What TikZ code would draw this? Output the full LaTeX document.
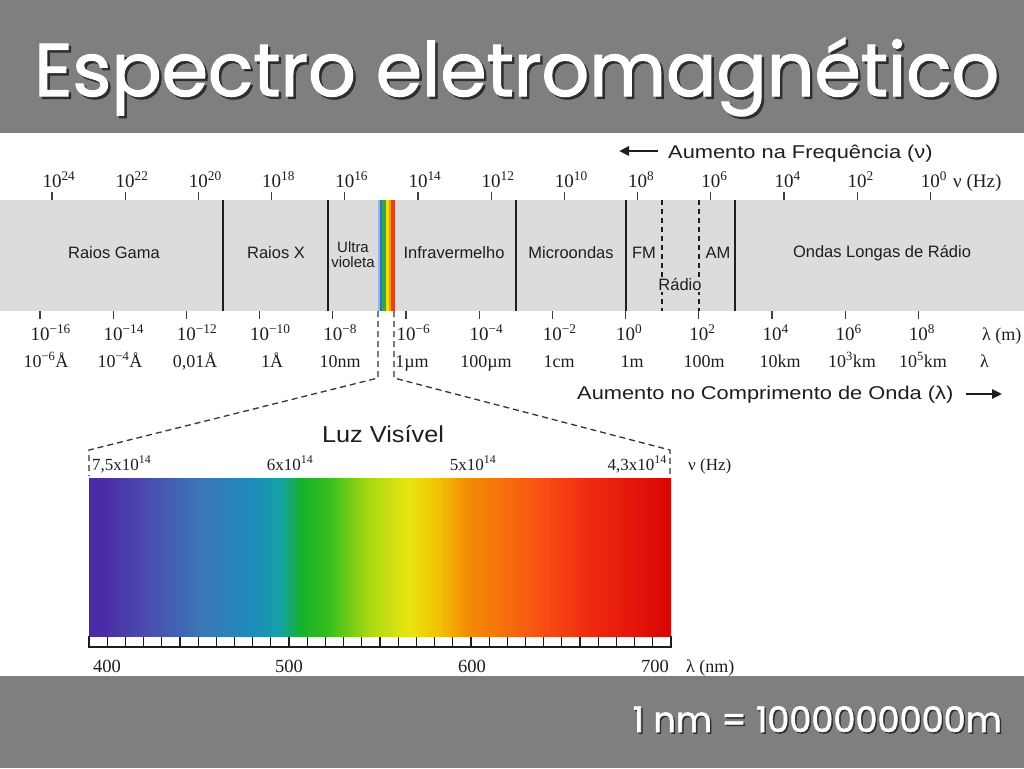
\documentclass[tikz,border=0pt]{standalone}
\usepackage{fontspec}
\setmainfont{Liberation Serif}
\newfontfamily\arialf{Liberation Sans}
\newfontfamily\geof[FakeBold=1.6]{Poppins}
\usetikzlibrary{arrows.meta}
\definecolor{hdr}{HTML}{7F7F7F}
\definecolor{bandc}{HTML}{DCDCDC}
\definecolor{ink}{HTML}{1E1E1E}
\definecolor{shadowc}{HTML}{2E2E2E}
\definecolor{s1}{HTML}{9AB4E8}
\definecolor{s2}{HTML}{3A6ACC}
\definecolor{s3}{HTML}{2EA84A}
\definecolor{s4}{HTML}{F2DC10}
\definecolor{s5}{HTML}{F49A10}
\definecolor{s6}{HTML}{E8401C}
\definecolor{v0}{HTML}{4B2BA6}
\definecolor{v1}{HTML}{4A4DB0}
\definecolor{v2}{HTML}{3C75B6}
\definecolor{v3}{HTML}{1E8CBA}
\definecolor{v4}{HTML}{14A0A8}
\definecolor{v5}{HTML}{18B02C}
\definecolor{v6}{HTML}{34BE1E}
\definecolor{v7}{HTML}{A8D812}
\definecolor{v8}{HTML}{EAE412}
\definecolor{v9}{HTML}{F2C204}
\definecolor{v10}{HTML}{F48C04}
\definecolor{v11}{HTML}{F85812}
\definecolor{v12}{HTML}{F02A10}
\definecolor{v13}{HTML}{D80404}
\pgfdeclarehorizontalshading{visible}{100bp}{color(0bp)=(v0); color(25bp)=(v0); color(26bp)=(v0); color(30bp)=(v1); color(34.5bp)=(v2); color(39bp)=(v3); color(41.4bp)=(v4); color(43.2bp)=(v5); color(45.5bp)=(v6); color(49bp)=(v7); color(52.5bp)=(v8); color(55bp)=(v9); color(57.5bp)=(v10); color(63bp)=(v11); color(68bp)=(v12); color(75bp)=(v13); color(100bp)=(v13)}
\tikzset{
  serifnum/.style={font=\fontsize{19}{22}\selectfont, text=ink, inner sep=0},
  vislbl/.style={font=\fontsize{17}{20}\selectfont, text=ink, inner sep=0},
  bandlbl/.style={font=\arialf\fontsize{16.5}{19}\selectfont, text=ink, inner sep=1pt},
  divider/.style={draw=ink, line width=1.5pt},
  tickline/.style={draw=ink!85, line width=1.2pt},
  zoomline/.style={draw=ink!90, line width=1.3pt, dash pattern=on 6pt off 4pt},
  bigarrow/.style={draw=ink, line width=2.6pt, -{Triangle[length=10pt,width=9pt]}},
}
\begin{document}
\begin{tikzpicture}[x=1pt,y=-1pt]
\useasboundingbox (0,0) rectangle (1024,768);
\fill[white] (0,0) rectangle (1024,768);
\fill[hdr] (0,0) rectangle (1024,133);
\fill[hdr] (0,676) rectangle (1024,768);
% title
\node[anchor=base west, inner sep=0, text=shadowc] (titleshadow) at (36.5,98.5) {\resizebox{965pt}{!}{\geof\fontsize{80}{90}\selectfont Espectro eletromagnético}};
\node[anchor=base west, inner sep=0, text=white] (title) at (34,96) {\resizebox{965pt}{!}{\geof\fontsize{80}{90}\selectfont Espectro eletromagnético}};
% footer
\node[anchor=base east, inner sep=0, text=shadowc] (footshadow) at (1003.5,733.5) {\resizebox{369pt}{!}{\geof\fontsize{36}{40}\selectfont 1 nm = 1000000000m}};
\node[anchor=base east, inner sep=0, text=white] (foot) at (1002,732) {\resizebox{369pt}{!}{\geof\fontsize{36}{40}\selectfont 1 nm = 1000000000m}};

% band
\fill[bandc] (0,200) rectangle (1024,311);
\foreach \x in {223,328,516,626,735} \draw[divider] (\x,200) -- (\x,311);
\foreach \x in {662,699} \draw[divider, line width=1.3pt, dash pattern=on 5pt off 4pt] (\x,200) -- (\x,311);
% rainbow stripe
\fill[s1] (377.7,200) rectangle (380.2,311);
\fill[s2] (380,200) rectangle (382.5,311);
\fill[s3] (382.3,200) rectangle (386.2,311);
\fill[s4] (386,200) rectangle (388.9,311);
\fill[s5] (388.7,200) rectangle (390.9,311);
\fill[s6] (390.7,200) rectangle (394.5,311);
\node[inner sep=0, minimum width=17, minimum height=111, anchor=north west] (uvstripe) at (377.7,200) {};

% band labels
\node[bandlbl] (gama) at (114,253) {Raios Gama};
\node[bandlbl] (raiosx) at (276,253) {Raios X};
\node[bandlbl, font=\arialf\fontsize{15}{17}\selectfont, align=center] (uv) at (353,255) {Ultra\\[-2pt]violeta};
\node[bandlbl] (ir) at (454,253) {Infravermelho};
\node[bandlbl] (micro) at (571,253) {Microondas};
\node[bandlbl] (fm) at (644,253) {FM};
\node[bandlbl] (am) at (718,253) {AM};
\node[bandlbl, fill=bandc] (radio) at (680,285) {Rádio};
\node[bandlbl] (longas) at (882,253) {Ondas Longas de Rádio};

% top frequency ticks and labels
\foreach \i/\e in {0/24,1/22,2/20,3/18,4/16,5/14,6/12,7/10,8/8,9/6,10/4,11/2,12/0} {
  \draw[tickline] (52+73.2*\i,192) -- (52+73.2*\i,200);
  \node[serifnum, anchor=base] (f\i) at (52+73.2*\i,187) {10\rlap{\textsuperscript{\e}}};
}
\node[serifnum, anchor=base west] (nuhz) at (953,187) {ν (Hz)};

% bottom wavelength ticks and labels
\foreach \i/\e in {0/−16,1/−14,2/−12,3/−10,4/−8,5/−6,6/−4,7/−2,8/0,9/2,10/4,11/6,12/8} {
  \draw[tickline] (40+73.2*\i,311) -- (40+73.2*\i,319);
  \node[serifnum, anchor=base] (w\i) at (40+73.2*\i,340) {10\rlap{\textsuperscript{\e}}};
}
\node[serifnum, font=\fontsize{18}{21}\selectfont, anchor=base west] (lamm) at (982,340) {λ (m)};
\foreach \x/\t [count=\j] in {46/{10\textsuperscript{−6}Å},120/{10\textsuperscript{−4}Å},195/{0,01Å},272/{1Å},340/{10nm},412/{1µm},486/{100µm},559/{1cm},632/{1m},704/{100m},780/{10km},852/{10\textsuperscript{3}km},923/{10\textsuperscript{5}km}}
  \node[serifnum, font=\fontsize{18}{21}\selectfont, anchor=base] (u\j) at (\x,367) {\t};
\node[serifnum, font=\fontsize{18}{21}\selectfont, anchor=base west] (lam) at (980,367) {λ};

% direction arrows
\coordinate (fa1) at (658,151);
\coordinate (fa2) at (619,151);
\draw[bigarrow] (fa1) -- (fa2);
\node[anchor=base west, inner sep=0, text=ink] (freqtxt) at (668,158) {\scalebox{1.18}[1]{\arialf\fontsize{18.5}{21}\selectfont Aumento na Frequência (ν)}};
\coordinate (la1) at (966,394);
\coordinate (la2) at (1002,394);
\draw[bigarrow] (la1) -- (la2);
\node[anchor=base west, inner sep=0, text=ink] (lamtxt) at (577,399) {\scalebox{1.18}[1]{\arialf\fontsize{18.5}{21}\selectfont Aumento no Comprimento de Onda (λ)}};

% zoom lines
\coordinate (zl0) at (378,311);
\coordinate (zl1) at (378,378);
\coordinate (zl2) at (89,450);
\coordinate (zl3) at (89,476);
\coordinate (zr0) at (394,311);
\coordinate (zr1) at (394,378);
\coordinate (zr2) at (670,450);
\coordinate (zr3) at (670,476);
\draw[zoomline] (zl0) -- (zl1) -- (zl2) -- (zl3);
\draw[zoomline] (zr0) -- (zr1) -- (zr2) -- (zr3);

% visible light
\node[anchor=base, inner sep=0, text=ink] (luz) at (383,442) {\scalebox{1.1}[1]{\arialf\fontsize{23}{26}\selectfont Luz Visível}};
\node[vislbl, anchor=base west] (vf1) at (92,470) {7,5x10\textsuperscript{14}};
\node[vislbl, anchor=base] (vf2) at (290,470) {6x10\textsuperscript{14}};
\node[vislbl, anchor=base] (vf3) at (473,470) {5x10\textsuperscript{14}};
\node[vislbl, anchor=base east] (vf4) at (667,470) {4,3x10\textsuperscript{14}};
\node[vislbl, anchor=base west] (vfhz) at (688,470) {ν (Hz)};
\shade[shading=visible] (89,478) rectangle (671,636);
\node[inner sep=0, minimum width=582, minimum height=158, anchor=north west] (spectrum) at (89,478) {};
\draw[ink, line width=1.3pt] (89,636) -- (89,647) -- (671,647) -- (671,636);
\foreach \k in {1,...,31} \draw[ink, line width=1.2pt] (89+18.1875*\k,637) -- (89+18.1875*\k,647);
\foreach \x/\t in {107/400,289/500,472/600,655/700}
  \node[vislbl, font=\fontsize{18.5}{21}\selectfont, anchor=base] (nm\t) at (\x,672) {\t};
\node[vislbl, font=\fontsize{18}{21}\selectfont, anchor=base west] (lamnm) at (686,672) {λ (nm)};
\end{tikzpicture}
\end{document}
